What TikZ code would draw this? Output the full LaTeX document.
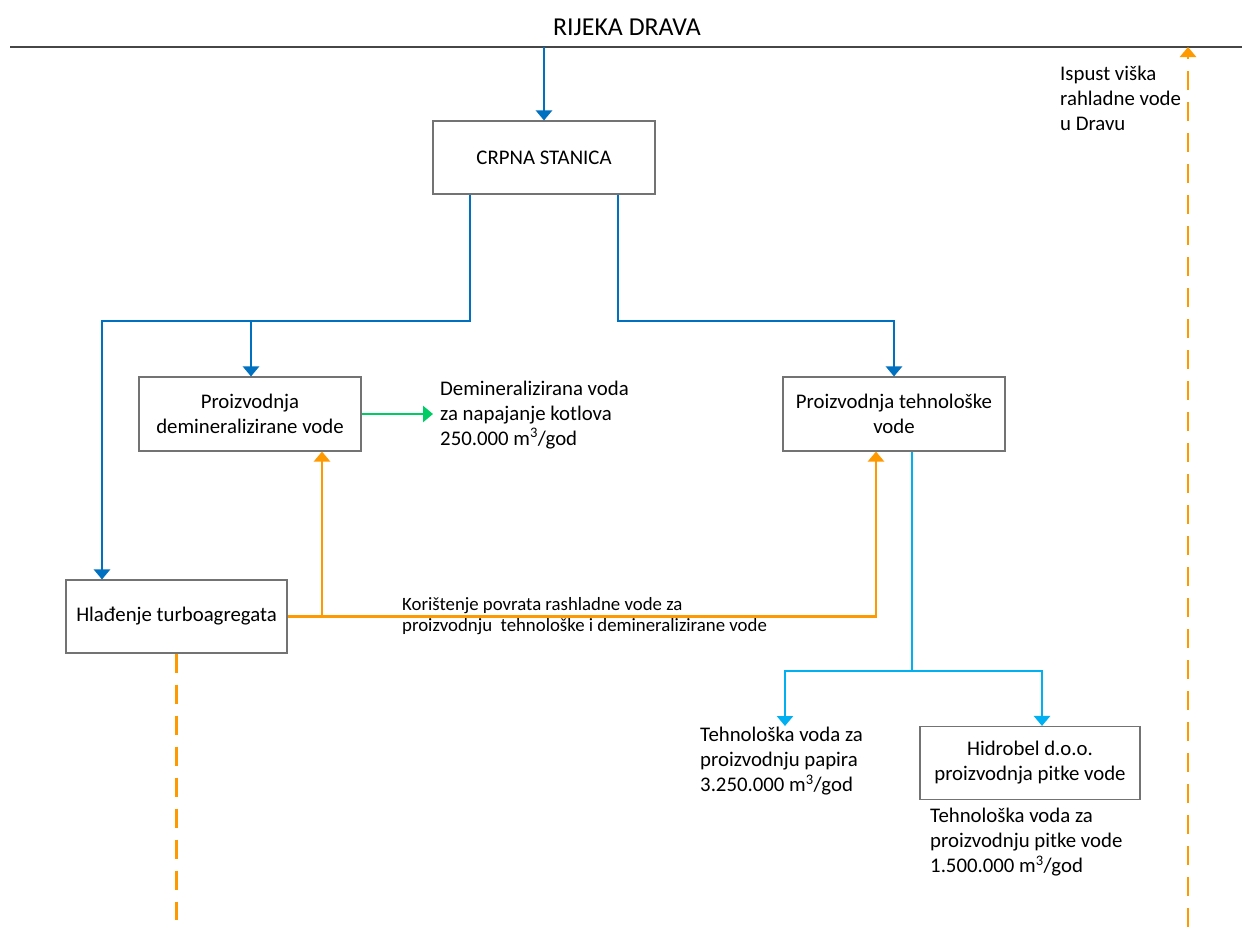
\documentclass[tikz,border=0pt]{standalone}
\usepackage{fontspec}
\setmainfont{Carlito}
\usetikzlibrary{arrows.meta}
\definecolor{cblue}{RGB}{0,112,192}
\definecolor{lblue}{RGB}{0,176,240}
\definecolor{corange}{RGB}{255,153,0}
\definecolor{cgreen}{RGB}{0,204,102}
\definecolor{cgray}{RGB}{115,115,115}
\definecolor{criver}{RGB}{70,70,70}
\begin{document}
\begin{tikzpicture}[x=1pt,y=-1pt,
  box/.style={draw=cgray,line width=1.1pt,fill=white,inner sep=2pt,align=center,font=\fontsize{20.8}{25}\selectfont},
  txt/.style={inner sep=0pt,align=left,font=\fontsize{20.8}{25}\selectfont},
  small/.style={inner sep=0pt,align=left,font=\fontsize{18.8}{21.5}\selectfont},
  tip/.style={-{Triangle[width=16pt,length=10pt]}},
  bl/.style={draw=cblue,line width=2.6pt},
  lb/.style={draw=lblue,line width=2.6pt},
  orl/.style={draw=corange,line width=2.6pt},
  gr/.style={draw=cgreen,line width=2.6pt},
  dsh/.style={draw=corange,line width=2.6pt,dash pattern=on 19pt off 12pt}
]
\useasboundingbox (0,0) rectangle (1242,927);
\fill[white] (0,0) rectangle (1242,927);

% river
\coordinate (rl) at (10,47);
\coordinate (rr) at (1242,47);
\draw[criver,line width=2.8pt] (rl) -- (rr);
\node[inner sep=0pt,font=\fontsize{25.8}{30}\selectfont] (title) at (627,27) {RIJEKA DRAVA};

% boxes
\node[box,minimum width=222pt,minimum height=73pt] (crpna) at (544,157.5) {CRPNA STANICA};
\node[box,minimum width=222pt,minimum height=74pt] (demin) at (250,414) {Proizvodnja\\demineralizirane vode};
\node[box,minimum width=222pt,minimum height=74pt] (teh) at (894,414) {Proizvodnja tehnološke\\vode};
\node[box,minimum width=221pt,minimum height=73pt] (hlad) at (176.5,616.5) {Hlađenje turboagregata};
\node[box,minimum width=220pt,minimum height=73pt] (hid) at (1030,763) {Hidrobel d.o.o.\\proizvodnja pitke vode};

% texts
\node[txt,anchor=west] (demtxt) at (440,415) {Demineralizirana voda\\za napajanje kotlova\\250.000 m\textsuperscript{3}/god};
\node[txt,anchor=north west] (paptxt) at (700,727) {Tehnološka voda za\\proizvodnju papira\\3.250.000 m\textsuperscript{3}/god};
\node[txt,anchor=north west] (pittxt) at (930,808) {Tehnološka voda za\\proizvodnju pitke vode\\1.500.000 m\textsuperscript{3}/god};
\node[txt,anchor=north west] (isptxt) at (1060,66) {Ispust viška\\rahladne vode\\u Dravu};
\node[small,anchor=north west] (kortxt) at (402,597) {Korištenje povrata rashladne vode za\\proizvodnju\ \ tehnološke i demineralizirane vode};

% blue connectors
\coordinate (rin) at (544,47);
\draw[bl,tip] (rin) -- (crpna.north);
\coordinate (jl) at (102,321);
\coordinate (jd) at (251,321);
\coordinate (jr) at (894,321);
\draw[bl,tip] ([xshift=-74pt]crpna.south) |- (jl) -- (jl |- hlad.north);
\draw[bl,tip] (jd) -- (jd |- demin.north);
\draw[bl,tip] ([xshift=74pt]crpna.south) |- (jr) -- (jr |- teh.north);

% green
\coordinate (gt) at (433,414);
\draw[gr,tip] (demin.east) -- (demin.east -| gt);

% orange return
\draw[orl,tip] (hlad.east) -| ([xshift=-18pt]teh.south);
\coordinate (ob) at (322,616.5);
\draw[orl,tip] (ob) -- (ob |- demin.south);

% light blue
\coordinate (lj) at (912,671);
\coordinate (pa) at (785,726);
\draw[lb] ([xshift=18pt]teh.south) -- (lj);
\draw[lb,tip] (lj) -| (pa);
\draw[lb,tip] (lj) -| ([xshift=12pt]hid.north);

% dashed orange
\coordinate (hd) at (176.5,920);
\draw[dsh] (hlad.south) -- (hd);
\coordinate (rb) at (1188,927);
\coordinate (rt) at (1188,47);
\draw[dsh,tip] (rb) -- (rt);
\end{tikzpicture}
\end{document}
